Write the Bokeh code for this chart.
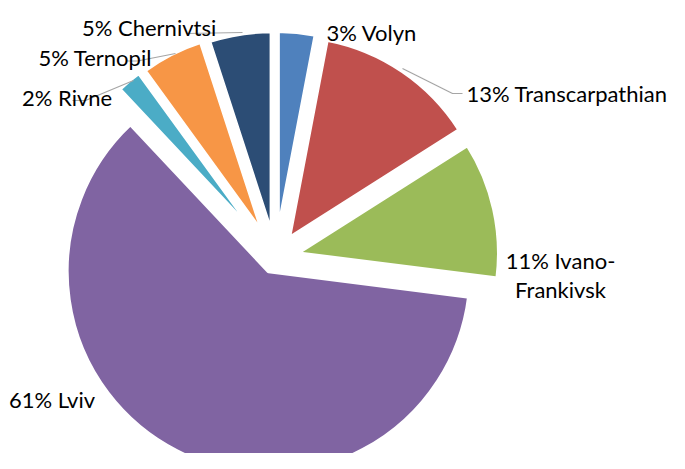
import math
from bokeh.plotting import figure
from bokeh.models import Range1d, ColumnDataSource
from bokeh.core.properties import value
from bokeh.embed import file_html
from bokeh.resources import INLINE

# ---------------- data ----------------
regions = ["Volyn", "Transcarpathian", "Ivano-Frankivsk", "Lviv", "Rivne", "Ternopil", "Chernivtsi"]
shares = [3, 13, 11, 61, 2, 5, 5]

# ---------------- style ----------------
colors = ["#4F81BD", "#C0504D", "#9BBB59", "#8064A2", "#4BACC6", "#F79646", "#2C4D75"]
explode = [25, 24, 22, 15, 28, 27, 25]      # px each slice is pulled out
CX, CY = 275, 257.5                           # pie centre (chart px)
R = 202                                       # pie radius (px)
W, H = 669, 453
FONT = value("Lato")
FSIZE = "22px"

# label anchors (chart px): x, baseline y, alignment
label_pos = [
    (326, 32, "left"),
    (466, 93, "left"),
    (560, 260, "center"),
    (8.5, 399, "left"),
    (21.5, 96.5, "left"),
    (38, 56.5, "left"),
    (81.5, 26.5, "left"),
]
leaders = [
    [(186, 33), (242, 32)],                 # Chernivtsi
    [(127, 60.5), (137, 60.5), (175, 53)],  # Ternopil
    [(72, 100), (85, 100), (133, 80)],      # Rivne
    [(402, 68), (452, 93), (462, 93)],      # Transcarpathian
]
LINE_GAP = 29


def tx(x):
    return x - CX


def ty(y):
    return CY - y


p = figure(width=W, height=H, output_backend="svg", toolbar_location=None,
           x_axis_type=None, y_axis_type=None,
           x_range=Range1d(tx(0), tx(W)), y_range=Range1d(ty(H), ty(0)),
           min_border=0, min_border_left=0, min_border_right=0,
           min_border_top=0, min_border_bottom=0)
p.outline_line_color = None
p.grid.visible = False
p.background_fill_color = "white"
p.border_fill_color = "white"

total = float(sum(shares))
xs, ys, starts, ends = [], [], [], []
cum = 0.0
for s, d in zip(shares, explode):
    t1 = cum / total * 360.0
    cum += s
    t2 = cum / total * 360.0
    mid = math.radians((t1 + t2) / 2)
    xs.append(d * math.sin(mid))
    ys.append(d * math.cos(mid))
    starts.append(math.radians(90 - t2))
    ends.append(math.radians(90 - t1))

src = ColumnDataSource(dict(x=xs, y=ys, start=starts, end=ends, color=colors))
p.wedge(x="x", y="y", radius=R, start_angle="start", end_angle="end",
        fill_color="color", line_color="white", line_width=4, source=src)

# leader lines
p.multi_line(xs=[[tx(a) for a, b in seg] for seg in leaders],
             ys=[[ty(b) for a, b in seg] for seg in leaders],
             line_color="#A6A6A6", line_width=1.2)

# labels
for name, s, (lx, ly, al) in zip(regions, shares, label_pos):
    if name == "Ivano-Frankivsk":
        lines = [f"{s}% Ivano-", "Frankivsk"]
    else:
        lines = [f"{s}% {name}"]
    for i, ln in enumerate(lines):
        p.text(x=[tx(lx)], y=[ty(ly + i * LINE_GAP)], text=[ln],
               text_font=FONT, text_font_size=FSIZE, text_color="#000000",
               text_align=al, text_baseline="alphabetic")

open("out.html", "w").write(file_html(p, INLINE))
